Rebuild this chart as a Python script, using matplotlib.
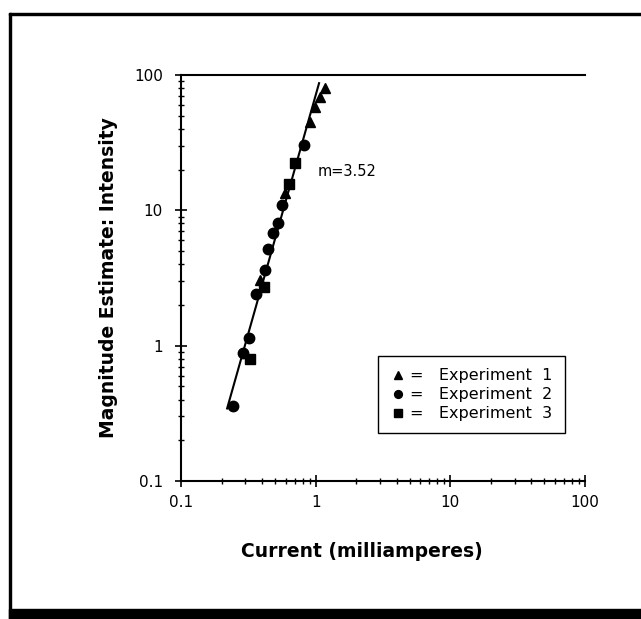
import numpy as np
import matplotlib
matplotlib.use('Agg')
import matplotlib.pyplot as plt
from matplotlib.patches import Rectangle

# readings (log-log power function plot)
exp1_current = [1.17, 1.08, 0.99, 0.91, 0.59, 0.386]
exp1_intensity = [80.0, 69.0, 58.0, 45.0, 13.4, 3.05]

exp2_current = [0.82, 0.56, 0.525, 0.48, 0.443, 0.42, 0.36, 0.32, 0.29, 0.243]
exp2_intensity = [30.4, 10.9, 8.05, 6.8, 5.2, 3.6, 2.4, 1.14, 0.88, 0.36]

exp3_current = [0.70, 0.63, 0.41, 0.325]
exp3_intensity = [22.4, 15.6, 2.7, 0.80]

# fitted power law y = a * x^m
slope_m = 3.52
fit_a = 70.9
fit_x = [0.22, 1.06]

xticks = [0.1, 1, 10, 100]
xtick_labels = ['0.1', '1', '10', '100']
yticks = [0.1, 1, 10, 100]
ytick_labels = ['0.1', '1', '10', '100']

W, H = 641, 619
fig = plt.figure(figsize=(W / 100, H / 100), dpi=100)

# outer frame of the page (left, top and heavy bottom edge)
fig.patches.append(Rectangle((9 / W, 0), 2 / W, 1 - 13 / H, transform=fig.transFigure, color='black'))
fig.patches.append(Rectangle((9 / W, 1 - 15 / H), 1, 2 / H, transform=fig.transFigure, color='black'))
fig.patches.append(Rectangle((9 / W, 0), 1, 10 / H, transform=fig.transFigure, color='black'))

ax = fig.add_axes([181 / W, (H - 481) / H, 404 / W, 406 / H])
ax.set_xscale('log')
ax.set_yscale('log')
ax.set_xlim(0.1, 100)
ax.set_ylim(0.1, 100)

fx = np.array(fit_x)
ax.plot(fx, fit_a * fx ** slope_m, color='black', lw=1.5, zorder=2)

ms = 7.5
ax.plot(exp1_current, exp1_intensity, ls='none', marker='^', color='black', ms=ms, label='=   Experiment  1', zorder=3)
ax.plot(exp2_current, exp2_intensity, ls='none', marker='o', color='black', ms=ms, label='=   Experiment  2', zorder=3)
ax.plot(exp3_current, exp3_intensity, ls='none', marker='s', color='black', ms=ms - 0.5, label='=   Experiment  3', zorder=3)

ax.text(1.04, 19.2, 'm=3.52', fontsize=10.5, va='center', ha='left')

ax.set_xticks(xticks)
ax.set_xticklabels(xtick_labels)
ax.set_yticks(yticks)
ax.set_yticklabels(ytick_labels)
ax.tick_params(which='major', direction='inout', length=8, width=1.2, labelsize=11)
ax.tick_params(which='minor', direction='inout', length=5, width=1)
ax.tick_params(axis='x', pad=6)
ax.tick_params(axis='y', pad=9)

for side in ['left', 'bottom', 'top']:
    ax.spines[side].set_linewidth(1.5)
ax.spines['right'].set_visible(False)

ax.set_xlabel('Current (milliamperes)', fontsize=13.5, fontweight='bold')
ax.xaxis.set_label_coords((362 - 181) / 404, -(542 - 481) / 406)
ax.set_ylabel('Magnitude Estimate: Intensity', fontsize=13.5, fontweight='bold')
ax.yaxis.set_label_coords(-(181 - 118) / 404, 0.5)

leg = ax.legend(loc='lower right', bbox_to_anchor=(0.95, 0.118), fancybox=False, framealpha=1,
                edgecolor='black', fontsize=11.5, handletextpad=0.3, handlelength=1.0,
                borderpad=0.75, labelspacing=0.25, markerscale=0.75, borderaxespad=0)
leg.get_frame().set_linewidth(1.0)

fig.savefig('out.png', dpi=100)
